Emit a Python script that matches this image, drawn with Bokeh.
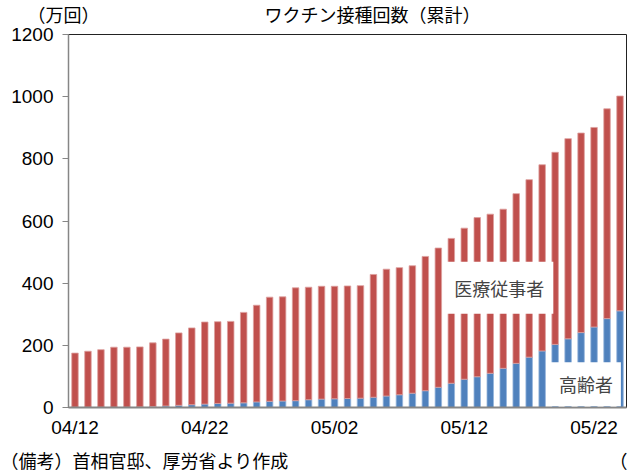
from bokeh.plotting import figure
from bokeh.models import Label, FixedTicker, Range1d, ColumnDataSource, LinearAxis
from bokeh.embed import file_html
from bokeh.resources import INLINE

dates = ["04/12", "04/13", "04/14", "04/15", "04/16", "04/17", "04/18", "04/19",
         "04/20", "04/21", "04/22", "04/23", "04/24", "04/25", "04/26", "04/27",
         "04/28", "04/29", "04/30", "05/01", "05/02", "05/03", "05/04", "05/05",
         "05/06", "05/07", "05/08", "05/09", "05/10", "05/11", "05/12", "05/13",
         "05/14", "05/15", "05/16", "05/17", "05/18", "05/19", "05/20", "05/21",
         "05/22", "05/23", "05/24"]

# 高齢者 (万回)
elderly = [1, 1, 1, 1, 1, 2, 3, 5, 7, 9, 11, 13, 14, 15, 18, 20, 21, 22, 25, 27,
           28, 29, 30, 33, 37, 41, 46, 54, 65, 78, 91, 99, 110, 126, 142, 162,
           182, 203, 221, 241, 259, 286, 311]

# 医療従事者 (万回)
medical = [174, 180, 185, 193, 193, 193, 205, 215, 233, 247, 264, 263, 263, 291,
           311, 335, 335, 363, 362, 363, 362, 362, 362, 395, 408, 409, 410, 432,
           448, 466, 486, 512, 512, 512, 546, 571, 599, 618, 644, 642, 642, 675,
           691]

y_ticks = [0, 200, 400, 600, 800, 1000, 1200]
x_tick_idx = [0, 10, 20, 30, 40]

title_text = "ワクチン接種回数（累計）"
unit_text = "（万回）"
note_text = "（備考）首相官邸、厚労省より作成"
cut_text = "（"
label_medical = "医療従事者"
label_elderly = "高齢者"

source = ColumnDataSource(dict(x=list(range(len(dates))), elderly=elderly, medical=medical))

JP = "Noto Sans CJK JP"
JP_ROW = "'Liberation Sans', 'Noto Sans CJK JP'"
NUM = "Liberation Sans"
FRAME_W = 558

p = figure(width=627, height=474, output_backend="svg", toolbar_location=None,
           x_range=Range1d(-0.5, len(dates) - 0.5), y_range=Range1d(0, 1200),
           min_border_left=68, min_border_right=1, min_border_top=34,
           min_border_bottom=66)
p.extra_x_ranges = {"px": Range1d(0, FRAME_W)}

p.vbar_stack(["elderly", "medical"], x="x", width=0.5, source=source,
             fill_color=["#4F81BD", "#C0504D"],
             line_color=["#95B5DC", "#DDA09E"], line_width=0.8)

p.grid.visible = False
p.outline_line_color = "#222222"
p.outline_line_width = 1
p.background_fill_color = "white"
p.border_fill_color = "white"

p.xaxis.ticker = FixedTicker(ticks=x_tick_idx)
p.xaxis.major_label_overrides = {i: dates[i] for i in x_tick_idx}
p.xaxis.major_tick_out = 0
p.xaxis.major_tick_in = 0
p.xaxis.minor_tick_line_color = None
p.xaxis.axis_line_color = "#868686"
p.xaxis.axis_line_width = 2
p.xaxis.major_label_standoff = 9
p.xaxis.major_label_text_font = NUM
p.xaxis.major_label_text_font_size = "19px"
p.xaxis.major_label_text_color = "black"

p.yaxis.ticker = FixedTicker(ticks=y_ticks)
p.yaxis.minor_tick_line_color = None
p.yaxis.major_tick_in = 0
p.yaxis.major_tick_out = 6
p.yaxis.major_tick_line_color = "#868686"
p.yaxis.axis_line_color = "#868686"
p.yaxis.axis_line_width = 1.5
p.yaxis.major_label_standoff = 9
p.yaxis.major_label_text_font = NUM
p.yaxis.major_label_text_font_size = "19px"
p.yaxis.major_label_text_color = "black"

# title row (unit + title) as a tick-label-only axis above the frame
top_ticks = [0, 304]
top_axis = LinearAxis(x_range_name="px", ticker=FixedTicker(ticks=top_ticks),
                      major_label_overrides={0: unit_text + "\u00a0\u00a0", 304: title_text},
                      axis_line_color=None, major_tick_line_color=None,
                      minor_tick_line_color=None, major_tick_out=0, major_tick_in=0,
                      major_label_standoff=9, major_label_text_font=JP_ROW,
                      major_label_text_font_size="18px",
                      major_label_text_color="black")
p.add_layout(top_axis, "above")

# source note row below the date axis
note_ticks = [67, 550]
note_axis = LinearAxis(x_range_name="px", ticker=FixedTicker(ticks=note_ticks),
                       major_label_overrides={67: note_text, 550: cut_text},
                       axis_line_color=None, major_tick_line_color=None,
                       minor_tick_line_color=None, major_tick_out=0, major_tick_in=0,
                       major_label_standoff=11, major_label_text_font=JP_ROW,
                       major_label_text_font_size="18px",
                       major_label_text_color="black")
p.add_layout(note_axis, "below")

# series labels inside the plot (data coordinates)
p.add_layout(Label(x=32.7, y=385, text=label_medical, text_font=JP,
                   text_font_size="18px", text_align="center",
                   text_baseline="middle", background_fill_color="white",
                   padding=(9, 13)))
p.add_layout(Label(x=39.37, y=75, text=label_elderly, text_font=JP,
                   text_font_size="18px", text_align="center",
                   text_baseline="middle", background_fill_color="white",
                   padding=(8, 9)))

open("out.html", "w").write(file_html(p, INLINE))
